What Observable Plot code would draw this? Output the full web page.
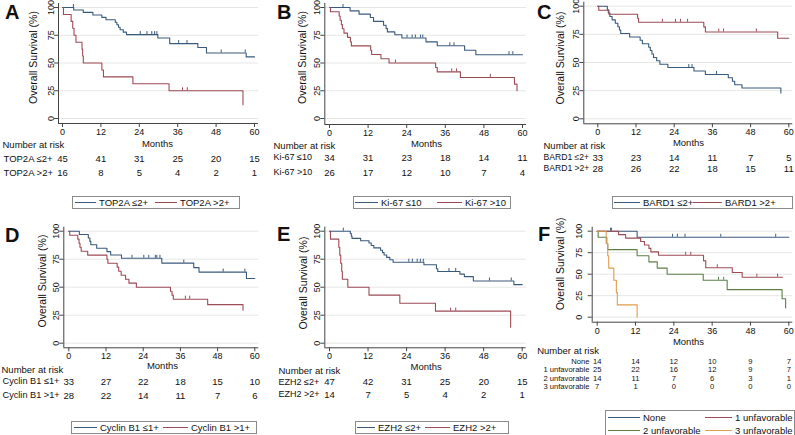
<!DOCTYPE html>
<html><head><meta charset="utf-8">
<script src="https://cdn.jsdelivr.net/npm/d3@7"></script>
<script src="https://cdn.jsdelivr.net/npm/@observablehq/plot@0.6"></script>
<style>
body{margin:0;background:#fff;font-family:"Liberation Sans",Arial,sans-serif;color:#111;}
#root{position:relative;width:795px;height:435px;overflow:hidden;background:#fff;}
.panel{position:absolute;}
.letter{position:absolute;font-weight:bold;font-size:20px;line-height:20px;}
.legend{position:absolute;border:1px solid #8a8a8a;box-sizing:border-box;font-size:9.5px;}
.entry{position:absolute;display:flex;align-items:center;white-space:nowrap;line-height:10px;}
.key{display:inline-block;height:0;border-top:1px solid #000;}
</style>
</head><body><div id="root"></div>
<script>
// ---------- data ----------
const xTicks = [0, 12, 24, 36, 48, 60];
const yTicks = [0, 25, 50, 75, 100];
const BLUE = "#3a5a7c", MAROON = "#9d4b55", GREEN = "#5f7f4a", ORANGE = "#e39b4c";

// A: TOP2A
const A_labels = ["TOP2A \u22642+", "TOP2A >2+"];
const A1_t = [0, 3.5, 6.5, 9.5, 12.3, 13.6, 16.5, 17, 17.5, 18, 19, 20, 29.8, 33.5, 42.3, 45, 57.4];
const A1_s = [100, 97.8, 95.6, 93.3, 91.1, 88.9, 86.7, 84.4, 82.2, 80, 77.8, 75.6, 72.5, 67.5, 64, 59, 55.5];
const A1_c = [3.4, 24.3, 26.4, 27.9, 28.8, 29.5, 36.3, 38.9, 49.6, 57.1];
const A1_end = 60;
const A2_t = [0, 0.3, 2.7, 3.2, 3.6, 4.2, 6.1, 6.3, 6.5, 12.3, 12.8, 22, 33.3, 56.4];
const A2_s = [100, 93.75, 87.5, 81.25, 75, 68.75, 62.5, 56.25, 50, 43.75, 37.5, 31.25, 25, 12.5];
const A2_c = [37.5, 39];
const A2_end = 56.4;
const A1_risk = [45, 41, 31, 25, 20, 15];
const A2_risk = [16, 8, 5, 4, 2, 1];

// B: Ki-67
const B_labels = ["Ki-67 \u226410", "Ki-67 >10"];
const B1_t = [0, 6.4, 9.2, 12.7, 13.7, 16.8, 17.6, 18, 20.3, 22.5, 30, 33.5, 42, 45.5];
const B1_s = [100, 97, 94, 91, 87.5, 84, 81, 78, 75.5, 72.5, 69, 65.5, 61.5, 57.5];
const B1_c = [4.2, 24.1, 25.7, 26.7, 28.3, 29, 37.4, 38.7, 55.8, 57];
const B1_end = 60;
const B2_t = [0, 0.3, 3, 3.3, 3.7, 4, 4.5, 5.6, 6.5, 6.8, 12.8, 13.1, 16, 18.5, 33, 33.5, 40.7, 57.5, 58.3];
const B2_s = [100, 96.2, 92.3, 88.5, 84.6, 80.8, 76.9, 73.1, 69.2, 65.4, 61.5, 57.7, 53.8, 50, 46, 42, 37, 31, 25];
const B2_c = [20.5, 38, 39.5, 50];
const B2_end = 58.3;
const B1_risk = [34, 31, 23, 18, 14, 11];
const B2_risk = [26, 17, 12, 10, 7, 4];

// C: BARD1
const C_labels = ["BARD1 \u22642+", "BARD1 >2+"];
const C1_t = [0, 3, 3.3, 3.8, 4.5, 5.5, 6.3, 6.8, 7.2, 10, 13.3, 14, 16, 16.5, 17, 17.5, 18.5, 19.5, 22, 30.2, 33.8, 41, 42.3, 43, 45.3, 57.5];
const C1_s = [100, 97, 93.9, 90.9, 87.9, 84.8, 81.8, 78.8, 75.8, 72.7, 69.7, 66.7, 63.6, 60.6, 57.6, 54.5, 51.5, 48.5, 45.5, 42.4, 39.4, 36.4, 33.3, 30.3, 27.3, 23];
const C1_c = [28.6, 29.6, 37.3];
const C1_end = 57.5;
const C2_t = [0, 0.3, 3.5, 12.5, 12.8, 33.3, 33.8, 56.5];
const C2_s = [100, 96.4, 92.9, 89.3, 85.7, 81.6, 77.1, 71.5];
const C2_c = [20.3, 24.4, 26, 28.2, 38, 39.5, 49.8];
const C2_end = 60;
const C1_risk = [33, 23, 14, 11, 7, 5];
const C2_risk = [28, 26, 22, 18, 15, 11];

// D: Cyclin B1
const D_labels = ["Cyclin B1 \u22641+", "Cyclin B1 >1+"];
const D1_t = [0, 3.4, 6.3, 6.8, 7.1, 9, 12.3, 13.5, 17, 30, 40.3, 42, 57.3];
const D1_s = [100, 97, 93.9, 90.9, 87.9, 84.8, 81.8, 78.8, 75.8, 71.5, 67.5, 63.5, 57.8];
const D1_c = [20.4, 24.2, 25.8, 27.9, 28.4, 29.4, 37.1, 49.8, 56.8];
const D1_end = 60;
const D2_t = [0, 0.3, 2.9, 3.3, 3.6, 4, 6.1, 12.3, 12.6, 15.6, 16.1, 16.9, 18.3, 19.4, 21.8, 32.8, 33.3, 33.7, 44.8, 56.2];
const D2_s = [100, 96.4, 92.9, 89.3, 85.7, 82.1, 78.6, 75, 71.4, 67.9, 64.3, 60.7, 57.1, 53.6, 50, 46.4, 42.9, 39.3, 34.4, 29.5];
const D2_c = [37.6, 39];
const D2_end = 56.2;
const D1_risk = [33, 27, 22, 18, 15, 10];
const D2_risk = [28, 22, 14, 11, 7, 6];

// E: EZH2
const E_labels = ["EZH2 \u22642+", "EZH2 >2+"];
const E1_t = [0, 6.5, 6.8, 7, 9.7, 12.3, 13, 13.8, 15.9, 16.5, 17, 17.8, 18.8, 19.8, 29.4, 33.3, 33.7, 40.6, 42, 44.8, 57.4];
const E1_s = [100, 97.9, 95.7, 93.6, 91.5, 89.4, 87.2, 85.1, 83, 80.9, 78.7, 76.6, 74.5, 72.3, 70, 66.5, 64, 61.7, 59.4, 55.5, 52.3];
const E1_c = [4.3, 24.7, 25.8, 27.3, 28.3, 29.2, 37.2, 39.3, 49.8, 56.6];
const E1_end = 60;
const E2_t = [0, 0.3, 2.9, 3.2, 3.5, 3.8, 4, 5.7, 12.3, 21.9, 33, 56.4];
const E2_s = [100, 92.9, 85.7, 78.6, 71.4, 64.3, 57.1, 50, 42.9, 35.7, 28.6, 14.3];
const E2_c = [37.7, 39.3];
const E2_end = 56.4;
const E1_risk = [47, 42, 31, 25, 20, 15];
const E2_risk = [14, 7, 5, 4, 2, 1];

// F: number of unfavorable markers
const F_labels = ["None", "1 unfavorable", "2 unfavorable", "3 unfavorable"];
const F1_t = [0, 12.5];
const F1_s = [100, 92.9];
const F1_c = [4.2, 23.6, 25.1, 27.5, 38.7, 55.9];
const F1_end = 60;
const F2_t = [0, 6.7, 8.9, 13.6, 14.8, 16.2, 16.8, 19.2, 33.3, 34, 42.3, 45.4];
const F2_s = [100, 96, 92, 88, 84, 80, 76, 72, 65.5, 57.5, 52, 46.5];
const F2_c = [4.5, 27.7, 29.3, 37.6, 50, 56.5];
const F2_end = 58;
const F3_t = [0, 0.3, 3, 3.3, 12.5, 16.2, 18.8, 21.9, 33.2, 40.7, 57.9, 59];
const F3_s = [100, 92.9, 85.7, 78.6, 71.4, 64.3, 57.1, 50, 42.9, 32.1, 21.4, 10.7];
const F3_c = [38, 39.6];
const F3_end = 59;
const F4_t = [0, 2.8, 3.3, 3.6, 5.2, 6, 6.3, 12.5];
const F4_s = [100, 85.7, 71.4, 57.1, 42.9, 28.6, 14.3, 0];
const F4_c = [];
const F4_end = 12.5;
const F1_risk = [14, 14, 12, 10, 9, 7];
const F2_risk = [25, 22, 16, 12, 9, 7];
const F3_risk = [14, 11, 7, 6, 3, 1];
const F4_risk = [7, 1, 0, 0, 0, 0];

// ---------- layout (page pixels) ----------
const panels = [
  {letter: "A", labels: A_labels, colors: [BLUE, MAROON],
   series: [[A1_t, A1_s, A1_c, A1_end], [A2_t, A2_s, A2_c, A2_end]], risk: [A1_risk, A2_risk],
   geo: {left: 0, top: 0, w: 262, h: 185, X0: 62, X60: 254, Y100: 7, Y0: 118, axX: 58, axY: 123, yPad: 1,
         titleDx: -25, titleY: 57, monthsX: 157, monthsY: 143, narX: 2, narY: 144, rowY: [158, 172], labelX: 3, labelAnchor: "start", riskFont: 9.5, labelFont: 9.5,
         letterX: 5, letterY: 5,
         legend: {left: 72, top: 196, w: 168, h: 13, keys: [[75, 0], [155, 0]], keyW: [21, 22]}}},
  {letter: "B", labels: B_labels, colors: [BLUE, MAROON],
   series: [[B1_t, B1_s, B1_c, B1_end], [B2_t, B2_s, B2_c, B2_end]], risk: [B1_risk, B2_risk],
   geo: {left: 262, top: 0, w: 265, h: 185, X0: 329, X60: 522, Y100: 7, Y0: 118, axX: 324.3, axY: 124, yPad: 1,
         titleDx: -22, titleY: 57, monthsX: 426, monthsY: 143, narX: 273, narY: 145, rowY: [157, 172], labelX: 273, labelAnchor: "start", riskFont: 9.5, labelFont: 9,
         letterX: 277, letterY: 5,
         legend: {left: 353, top: 196, w: 158, h: 13, keys: [[355, 0], [437, 0]], keyW: [23, 25]}}},
  {letter: "C", labels: C_labels, colors: [BLUE, MAROON],
   series: [[C1_t, C1_s, C1_c, C1_end], [C2_t, C2_s, C2_c, C2_end]], risk: [C1_risk, C2_risk],
   geo: {left: 527, top: 0, w: 268, h: 185, X0: 597.3, X60: 788.3, Y100: 5.7, Y0: 118.3, axX: 583.3, axY: 123.3, yPad: 1,
         titleDx: -23, titleY: 57.5, monthsX: 688, monthsY: 142.7, narX: 543, narY: 145, rowY: [157, 168], labelX: 543, labelAnchor: "start", riskFont: 9.5, labelFont: 8.6,
         letterX: 537, letterY: 5,
         legend: {left: 612, top: 196, w: 181, h: 13, keys: [[614, 0], [693, 0]], keyW: [26, 29]}}},
  {letter: "D", labels: D_labels, colors: [BLUE, MAROON],
   series: [[D1_t, D1_s, D1_c, D1_end], [D2_t, D2_s, D2_c, D2_end]], risk: [D1_risk, D2_risk],
   geo: {left: 0, top: 215, w: 262, h: 190, X0: 68.3, X60: 254.3, Y100: 230.7, Y0: 342.7, axX: 63.3, axY: 347.3, yPad: 1,
         titleDx: -21, titleY: 280.5, monthsX: 162, monthsY: 365.7, narX: 1, narY: 369, rowY: [381, 395], labelX: 2, labelAnchor: "start", riskFont: 9.5, labelFont: 9.2,
         letterX: 5, letterY: 228,
         legend: {left: 71, top: 421, w: 186, h: 13, keys: [[74, 0], [163, 0]], keyW: [23, 25]}}},
  {letter: "E", labels: E_labels, colors: [BLUE, MAROON],
   series: [[E1_t, E1_s, E1_c, E1_end], [E2_t, E2_s, E2_c, E2_end]], risk: [E1_risk, E2_risk],
   geo: {left: 262, top: 215, w: 265, h: 190, X0: 329, X60: 521.7, Y100: 230.7, Y0: 342.7, axX: 324.3, axY: 347.3, yPad: 1,
         titleDx: -21.6, titleY: 282.5, monthsX: 425.7, monthsY: 366, narX: 278, narY: 370, rowY: [381.7, 394], labelX: 278, labelAnchor: "start", riskFont: 9.5, labelFont: 9,
         letterX: 277, letterY: 227,
         legend: {left: 355, top: 421, w: 154, h: 13, keys: [[357, 0], [425, 0]], keyW: [18, 25]}}},
  {letter: "F", labels: F_labels, colors: [BLUE, MAROON, GREEN, ORANGE],
   series: [[F1_t, F1_s, F1_c, F1_end], [F2_t, F2_s, F2_c, F2_end], [F3_t, F3_s, F3_c, F3_end], [F4_t, F4_s, F4_c, F4_end]],
   risk: [F1_risk, F2_risk, F3_risk, F4_risk],
   geo: {left: 527, top: 215, w: 268, h: 180, X0: 596.7, X60: 788.3, Y100: 230.7, Y0: 316.7, axX: 591.7, axY: 321.7, yPad: 6,
         titleDx: -31.7, titleY: 263.3, monthsX: 688, monthsY: 341.7, narX: 536.7, narY: 350, rowY: [361, 369.3, 377.7, 385.7], labelX: 589, labelAnchor: "end", riskFont: 7.6, labelFont: 7.6,
         letterX: 538, letterY: 227,
         legend: {left: 605, top: 410, w: 190, h: 28, keys: [[608, 0], [705, 0], [608, 1], [705, 1]], keyW: [32, 27, 32, 27]}}}
];

// ---------- helpers ----------
function curvePoints(t, s, end) {
  const pts = t.map((d, i) => ({t: d, s: s[i]}));
  pts.push({t: end, s: s[s.length - 1]});
  return pts;
}
function survAt(t, s, x) {
  let v = s[0];
  for (let i = 0; i < t.length; i++) if (t[i] <= x) v = s[i];
  return v;
}

const root = document.getElementById("root");
const TXT = {fill: "#111", lineAnchor: "middle"};

for (const P of panels) {
  const g = P.geo;
  const pxm = (g.X60 - g.X0) / 60, pxp = (g.Y0 - g.Y100) / 100;
  const frameRight = g.X60 + 4, frameTop = g.Y100 - 4;
  const xmin = -(g.X0 - g.axX) / pxm, xmax = 60 + (frameRight - g.X60) / pxm;
  const ymin = -(g.axY - g.Y0) / pxp, ymax = 100 + (g.Y100 - frameTop) / pxp;
  const fcx = (g.axX + frameRight) / 2, fcy = (frameTop + g.axY) / 2;

  const marks = [];
  marks.push(Plot.ruleY(yTicks, {x1: xmin, x2: xmax, stroke: "#e6e6e6", strokeWidth: 1}));
  P.series.forEach(([t, s, c, end], i) => {
    marks.push(Plot.line(curvePoints(t, s, end), {x: "t", y: "s", curve: "step-after", stroke: P.colors[i], strokeWidth: 1.1}));
    const cens = c.map(x => ({t: x, s: survAt(t, s, x)}));
    marks.push(Plot.ruleX(cens, {x: "t", y1: "s", y2: d => d.s + 3 / pxp, stroke: P.colors[i], strokeWidth: 1}));
  });
  marks.push(Plot.ruleX([xmin], {y1: ymin, y2: ymax, stroke: "#444"}));
  marks.push(Plot.ruleY([ymin], {x1: xmin, x2: xmax, stroke: "#444"}));
  marks.push(Plot.axisX(xTicks, {anchor: "bottom", tickSize: 4, tickPadding: 1, label: null, stroke: "#444", fill: "#111"}));
  marks.push(Plot.axisY(yTicks, {anchor: "left", tickSize: 4, tickPadding: g.yPad, tickRotate: -90, label: null, stroke: "#444", fill: "#111"}));
  marks.push(Plot.text(["Overall Survival (%)"], {...TXT, frameAnchor: "left", textAnchor: "middle", dx: g.titleDx, dy: g.titleY - fcy, rotate: -90, fontSize: 10.5, text: d => d}));
  marks.push(Plot.text(["Months"], {...TXT, frameAnchor: "bottom", textAnchor: "middle", dx: g.monthsX - fcx, dy: g.monthsY - g.axY, fontSize: 9.5, text: d => d}));
  marks.push(Plot.text(["Number at risk"], {...TXT, frameAnchor: "bottom-left", dx: g.narX - g.axX, dy: g.narY - g.axY, textAnchor: "start", fontSize: 9.5, text: d => d}));
  P.risk.forEach((row, i) => {
    marks.push(Plot.text(xTicks.map((t, j) => ({t, n: row[j]})), {...TXT, x: "t", frameAnchor: "bottom", textAnchor: "middle", dy: g.rowY[i] - g.axY, text: d => String(d.n), fontSize: g.riskFont}));
    marks.push(Plot.text([P.labels[i]], {...TXT, frameAnchor: "bottom-left", dx: g.labelX - g.axX, dy: g.rowY[i] - g.axY, textAnchor: g.labelAnchor, fontSize: g.labelFont, text: d => d}));
  });

  const svg = Plot.plot({
    width: g.w, height: g.h,
    marginLeft: g.axX - g.left, marginRight: g.left + g.w - frameRight,
    marginTop: frameTop - g.top, marginBottom: g.top + g.h - g.axY,
    x: {domain: [xmin, xmax]}, y: {domain: [ymin, ymax]},
    style: {fontFamily: "'Liberation Sans', Arial, sans-serif", fontSize: "9px", background: "transparent", overflow: "visible", color: "#111"},
    marks
  });
  const wrap = document.createElement("div");
  wrap.className = "panel";
  wrap.style.left = g.left + "px"; wrap.style.top = g.top + "px";
  wrap.appendChild(svg);
  root.appendChild(wrap);

  // panel letter
  const L = document.createElement("div");
  L.className = "letter"; L.textContent = P.letter;
  L.style.left = g.letterX + "px"; L.style.top = (g.letterY - 2.6) + "px";
  root.appendChild(L);

  // legend
  const lg = g.legend;
  const box = document.createElement("div");
  box.className = "legend";
  Object.assign(box.style, {left: lg.left + "px", top: lg.top + "px", width: lg.w + "px", height: lg.h + "px"});
  const nRows = Math.max(...lg.keys.map(k => k[1])) + 1;
  const rowH = (lg.h - 2) / nRows;
  P.labels.forEach((lab, i) => {
    const e = document.createElement("div");
    e.className = "entry";
    e.style.left = (lg.keys[i][0] - lg.left - 1) + "px";
    e.style.top = (lg.keys[i][1] * rowH + rowH / 2 - 5) + "px";
    const k = document.createElement("span");
    k.className = "key";
    k.style.width = lg.keyW[i] + "px";
    k.style.borderTopColor = P.colors[i];
    k.style.marginRight = "3px";
    const t = document.createElement("span");
    t.textContent = lab;
    e.appendChild(k); e.appendChild(t);
    box.appendChild(e);
  });
  root.appendChild(box);
}
</script>
</body></html>
